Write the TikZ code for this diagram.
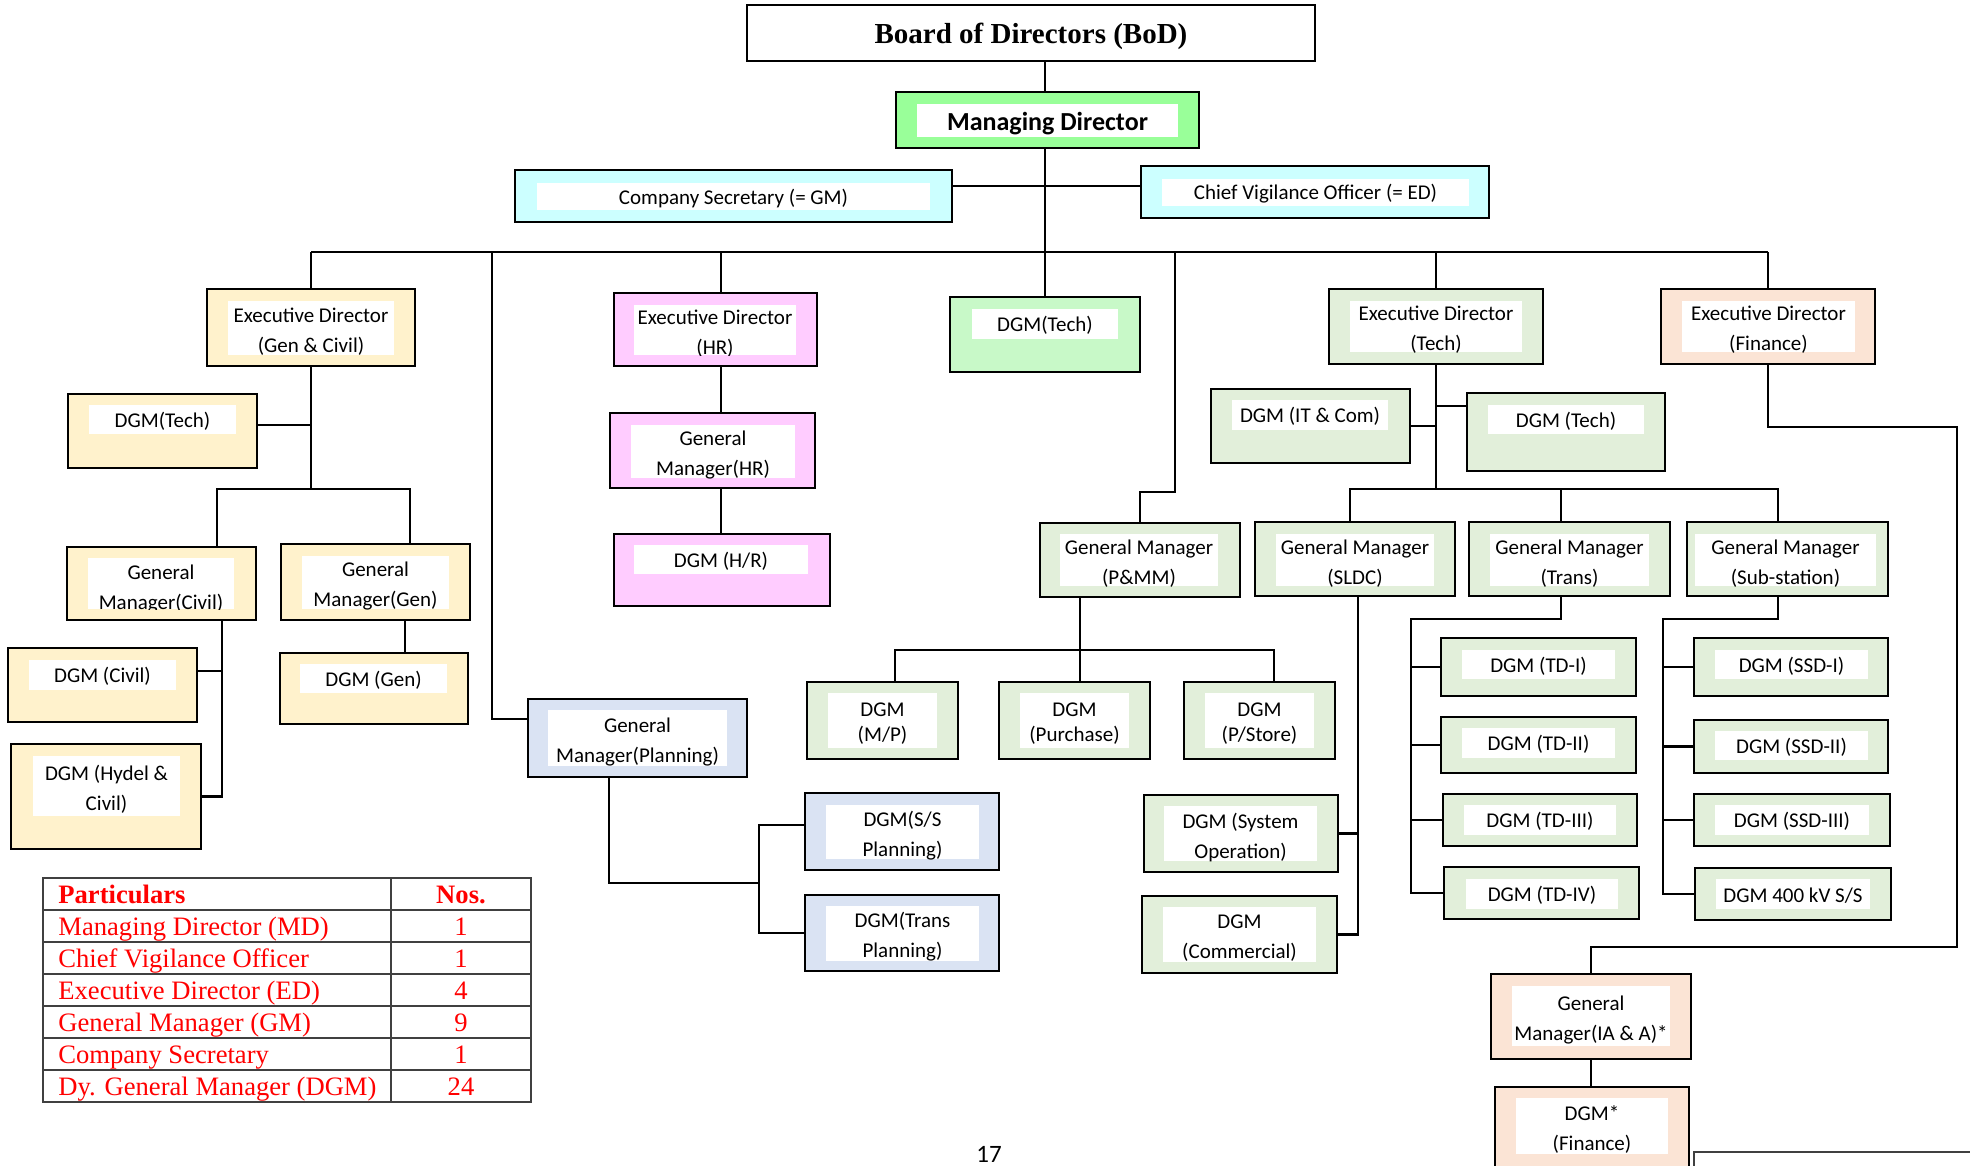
\documentclass[tikz,border=0pt]{standalone}
\usepackage{fontspec}
\setmainfont{Carlito}
\newfontfamily\timesf{Liberation Serif}
\usetikzlibrary{fit,calc}
\definecolor{mdgreen}{HTML}{99FF99}
\definecolor{cyanl}{HTML}{CCFFFF}
\definecolor{yel}{HTML}{FFF2CC}
\definecolor{hrpink}{HTML}{FFCCFF}
\definecolor{mdtech}{HTML}{C8F9C8}
\definecolor{tgreen}{HTML}{E2EFDA}
\definecolor{peach}{HTML}{FBE4D5}
\definecolor{lblue}{HTML}{DAE3F3}
\definecolor{tabred}{HTML}{FF0000}
\tikzset{
  orgframe/.style={draw=black, line width=1.15pt, inner sep=0pt, outer sep=0pt},
  btxt/.style={font=\fontsize{10.5}{15}\selectfont, align=center, inner sep=0pt, text=black, yshift=-0.8pt},
  twoline/.style={yshift=-1pt},
  conn/.style={line width=1.25pt},
  tabline/.style={line width=0.75pt, draw={rgb,255:red,64;green,64;blue,64}},
  tabtxt/.style={font=\timesf\fontsize{13.3}{16}\selectfont, text=tabred, inner sep=0pt},
}
\newcommand\orgbox[8][]{%
  \node[orgframe, fill=#3, fit={(#4)(#5)}] (#2) {};
  \fill[white] (#6) rectangle (#7);
  \begin{scope}
    \clip (#6) rectangle (#7);
    \node[btxt, #1] (#2t) at ($(#6)!0.5!(#7)$) {#8};
  \end{scope}
}
\begin{document}
\begin{tikzpicture}[x=0.5pt,y=-0.5pt]
\useasboundingbox (0,0) rectangle (1970,1166);
% boxes
\node[draw=black, line width=0.7pt, fill=white, inner sep=0pt, fit={(747,5)(1315,61)}] (bod) {};
\node[font={\timesf\fontsize{14.5}{16}\selectfont\bfseries}, inner sep=0pt] (bodt) at (1031,36) {Board of Directors (BoD)};
\orgbox[yshift=-0.6pt]{md}{mdgreen}{896,92}{1199,148}{917,104}{1178,137}{\fontsize{13}{15}\selectfont\bfseries Managing Director}
\orgbox{cs}{cyanl}{515,170}{952,222}{537,183}{930,210}{Company Secretary (= GM)}
\orgbox{cvo}{cyanl}{1141,166}{1489,218}{1162,179}{1469,206}{Chief Vigilance Officer (= ED)}
\orgbox[twoline]{edgc}{yel}{207,289}{415,366}{228,301}{394,355}{Executive Director\\(Gen \& Civil)}
\orgbox[twoline]{edhr}{hrpink}{614,293}{817,366}{634,305}{796,355}{Executive Director\\(HR)}
\orgbox{dgmta}{mdtech}{950,297}{1140,372}{972,309}{1118,339}{DGM(Tech)}
\orgbox[twoline]{edt}{tgreen}{1329,289}{1543,364}{1350,301}{1522,352}{Executive Director\\(Tech)}
\orgbox[twoline]{edf}{peach}{1661,289}{1875,364}{1682,301}{1855,352}{Executive Director\\(Finance)}
\orgbox{dgmtb}{yel}{68,394}{257,468}{89,405}{236,434}{DGM(Tech)}
\orgbox[yshift=-2pt]{gmc}{yel}{67,547}{256,620}{88,558}{234,609}{General\\Manager(Civil)}
\orgbox[twoline]{gmg}{yel}{281,544}{470,620}{302,556}{449,609}{General\\Manager(Gen)}
\orgbox{dgmc}{yel}{8,648}{197,722}{29,660}{176,690}{DGM (Civil)}
\orgbox{dgmg}{yel}{280,653}{468,724}{300,664}{447,693}{DGM (Gen)}
\orgbox[twoline]{dgmh}{yel}{11,744}{201,849}{33,756}{180,816}{DGM (Hydel \&\\Civil)}
\orgbox[twoline]{gmhr}{hrpink}{610,413}{815,488}{631,425}{795,478}{General\\Manager(HR)}
\orgbox{dgmhr}{hrpink}{614,534}{830,606}{634,545}{808,574}{DGM (H/R)}
\orgbox[twoline]{gmp}{lblue}{528,699}{747,777}{548,710}{727,766}{General\\Manager(Planning)}
\orgbox[twoline]{dgmss}{lblue}{805,793}{999,870}{826,805}{979,859}{DGM(S/S\\Planning)}
\orgbox[twoline]{dgmtp}{lblue}{805,895}{999,971}{826,906}{979,961}{DGM(Trans\\Planning)}
\orgbox[twoline]{gmpmm}{tgreen}{1040,523}{1240,597}{1060,534}{1218,586}{General Manager\\(P\&MM)}
\orgbox[twoline]{dgmmp}{tgreen}{807,682}{958,759}{828,693}{937,748}{DGM\\[-2.5pt](M/P)}
\orgbox[twoline]{dgmpur}{tgreen}{999,682}{1150,759}{1020,693}{1129,748}{DGM\\[-2.5pt](Purchase)}
\orgbox[twoline]{dgmps}{tgreen}{1184,682}{1335,759}{1205,693}{1314,748}{DGM\\[-2.5pt](P/Store)}
\orgbox{dgmit}{tgreen}{1211,389}{1410,463}{1232,400}{1388,430}{DGM (IT \& Com)}
\orgbox{dgmtc}{tgreen}{1467,393}{1665,471}{1488,405}{1644,434}{DGM (Tech)}
\orgbox[twoline]{gmsl}{tgreen}{1255,522}{1455,596}{1276,534}{1434,586}{General Manager\\(SLDC)}
\orgbox[twoline]{gmtr}{tgreen}{1469,522}{1670,596}{1490,534}{1649,586}{General Manager\\(Trans)}
\orgbox[twoline]{gmsub}{tgreen}{1687,522}{1888,596}{1695,534}{1876,586}{General Manager\\(Sub-station)}
\orgbox[twoline]{dgmso}{tgreen}{1144,795}{1338,872}{1164,806}{1317,861}{DGM (System\\Operation)}
\orgbox[twoline]{dgmcm}{tgreen}{1142,896}{1337,973}{1163,907}{1316,962}{DGM\\(Commercial)}
\orgbox{tda}{tgreen}{1441,638}{1636,696}{1462,650}{1615,679}{DGM (TD-I)}
\orgbox{tdb}{tgreen}{1441,717}{1636,773}{1462,728}{1615,758}{DGM (TD-II)}
\orgbox{tdc}{tgreen}{1443,794}{1637,846}{1464,805}{1616,835}{DGM (TD-III)}
\orgbox{tdd}{tgreen}{1444,867}{1639,919}{1466,879}{1618,909}{DGM (TD-IV)}
\orgbox{ssa}{tgreen}{1694,638}{1888,696}{1715,650}{1868,679}{DGM (SSD-I)}
\orgbox{ssb}{tgreen}{1694,720}{1888,773}{1715,731}{1868,760}{DGM (SSD-II)}
\orgbox{ssc}{tgreen}{1694,794}{1890,846}{1715,805}{1869,835}{DGM (SSD-III)}
\orgbox{ssd}{tgreen}{1695,868}{1891,920}{1716,879}{1870,909}{DGM 400 kV S/S}
\orgbox[twoline]{gmia}{peach}{1491,974}{1691,1059}{1512,986}{1670,1046}{General\\Manager(IA \& A)*}
\orgbox[twoline]{dgmf}{peach}{1495,1087}{1689,1190}{1516,1098}{1668,1154}{DGM*\\(Finance)}
% helper coordinates
\coordinate (busY) at (0,252);
\coordinate (csY) at (0,186);
\coordinate (mdx) at (1045,0);
\coordinate (hrx) at (721,0);
% top connectors
\draw[conn] (mdx |- bod.south) -- (mdx |- md.north);
\draw[conn] (mdx |- md.south) -- (mdx |- dgmta.north);
\draw[conn] (cs.east |- csY) -- (cvo.west |- csY);
\draw[conn] (edgc.north |- busY) -- (edf.north |- busY);
\draw[conn] (edgc.north) -- (edgc.north |- busY);
\draw[conn] (hrx |- busY) -- (hrx |- edhr.north);
\draw[conn] (hrx |- edhr.south) -- (hrx |- gmhr.north);
\draw[conn] (hrx |- gmhr.south) -- (hrx |- dgmhr.north);
\draw[conn] (edt.north) -- (edt.north |- busY);
\draw[conn] (edf.north) -- (edf.north |- busY);
% long drops
\coordinate (pla) at (492,252);
\coordinate (plb) at (492,719);
\draw[conn] (pla) -- (plb) -- (plb -| gmp.west);
\coordinate (pma) at (1175,252);
\coordinate (pmb) at (1175,492);
\draw[conn] (pma) -- (pmb) -- (pmb -| gmpmm.north) -- (gmpmm.north);
% Gen & Civil
\coordinate (gcY) at (0,489);
\coordinate (tbY) at (0,425);
\draw[conn] (edgc.south) -- (edgc.south |- gcY);
\draw[conn] (dgmtb.east |- tbY) -- (edgc.south |- tbY);
\coordinate (gca) at (217,489);
\coordinate (gcb) at (410,489);
\draw[conn] (gca |- gmc.north) -- (gca) -- (gcb) -- (gcb |- gmg.north);
\coordinate (cvx) at (222,0);
\draw[conn] (cvx |- gmc.south) -- (cvx |- dgmh.east) -- (dgmh.east);
\coordinate (dcY) at (0,671);
\draw[conn] (dgmc.east |- dcY) -- (cvx |- dcY);
\coordinate (ggx) at (405,0);
\draw[conn] (ggx |- gmg.south) -- (ggx |- dgmg.north);
% Planning
\coordinate (pga) at (609,883);
\coordinate (pgb) at (759,883);
\draw[conn] (pga |- gmp.south) -- (pga) -- (pgb);
\coordinate (ssY) at (0,825);
\draw[conn] (dgmss.west |- ssY) -- (pgb |- ssY) -- (pgb |- dgmtp.west) -- (dgmtp.west);
% P&MM
\coordinate (pxa) at (895,650);
\coordinate (pxb) at (1080,650);
\coordinate (pxc) at (1274,650);
\draw[conn] (pxa |- dgmmp.north) -- (pxa) -- (pxc) -- (pxc |- dgmps.north);
\draw[conn] (pxb |- gmpmm.south) -- (pxb |- dgmpur.north);
% ED Tech
\coordinate (tY) at (0,489);
\coordinate (tcY) at (0,406);
\draw[conn] (edt.south) -- (edt.south |- tY);
\draw[conn] (dgmtc.west |- tcY) -- (edt.south |- tcY);
\draw[conn] (dgmit.east) -- (dgmit.east -| edt.south);
\coordinate (txa) at (1350,489);
\coordinate (txb) at (1561,489);
\coordinate (txc) at (1778,489);
\draw[conn] (txa |- gmsl.north) -- (txa) -- (txc) -- (txc |- gmsub.north);
\draw[conn] (txb) -- (txb |- gmtr.north);
% SLDC
\coordinate (slx) at (1358,0);
\draw[conn] (slx |- gmsl.south) -- (slx |- dgmcm.east) -- (dgmcm.east);
\draw[conn] (dgmso.east) -- (dgmso.east -| slx);
% Trans
\coordinate (trY) at (0,619);
\coordinate (trx) at (1411,0);
\draw[conn] (txb |- gmtr.south) -- (txb |- trY) -- (trx |- trY) -- (trx |- tdd.west) -- (tdd.west);
\draw[conn] (tda.west) -- (tda.west -| trx);
\draw[conn] (tdb.west) -- (tdb.west -| trx);
\draw[conn] (tdc.west) -- (tdc.west -| trx);
% Sub-station
\coordinate (sbx) at (1663,0);
\draw[conn] (txc |- gmsub.south) -- (txc |- trY) -- (sbx |- trY) -- (sbx |- ssd.west) -- (ssd.west);
\draw[conn] (ssa.west) -- (ssa.west -| sbx);
\draw[conn] (ssb.west) -- (ssb.west -| sbx);
\draw[conn] (ssc.west) -- (ssc.west -| sbx);
% Finance
\coordinate (fa) at (1768,427);
\coordinate (fb) at (1957,427);
\coordinate (fc) at (1957,947);
\draw[conn] (edf.south) -- (edf.south |- fa) -- (fb) -- (fc) -- (fc -| gmia.north) -- (gmia.north);
\draw[conn] (gmia.south) -- (gmia.south |- dgmf.north);
% fragment of a frame at the bottom right
\draw[line width=0.7pt, black!75] (1694,1180) -- (1694,1152) -- (1990,1152);
% table
\draw[tabline] (43,878) rectangle (531,1102);
\foreach \yy in {910,942,974,1006,1038,1070} \draw[tabline] (43,\yy) -- (531,\yy);
\draw[tabline] (391,878) -- (391,1102);
\node[tabtxt, anchor=base west, font={\timesf\fontsize{13.3}{16}\selectfont\bfseries}] (th1) at (58,903) {Particulars};
\node[tabtxt, anchor=base, font={\timesf\fontsize{13.3}{16}\selectfont\bfseries}] (th2) at (461,903) {Nos.};
\node[tabtxt, anchor=base west] (ta1) at (58,935) {Managing Director (MD)};
\node[tabtxt, anchor=base] (tb1) at (461,935) {1};
\node[tabtxt, anchor=base west] (ta2) at (58,967) {Chief Vigilance Officer};
\node[tabtxt, anchor=base] (tb2) at (461,967) {1};
\node[tabtxt, anchor=base west] (ta3) at (58,999) {Executive Director (ED)};
\node[tabtxt, anchor=base] (tb3) at (461,999) {4};
\node[tabtxt, anchor=base west] (ta4) at (58,1031) {General Manager (GM)};
\node[tabtxt, anchor=base] (tb4) at (461,1031) {9};
\node[tabtxt, anchor=base west] (ta5) at (58,1063) {Company Secretary};
\node[tabtxt, anchor=base] (tb5) at (461,1063) {1};
\node[tabtxt, anchor=base west] (ta6) at (58,1095) {Dy. General Manager (DGM)};
\node[tabtxt, anchor=base] (tb6) at (461,1095) {24};
% page number
\node[font=\fontsize{12.5}{14}\selectfont, inner sep=0pt, anchor=base] (pg) at (989,1162) {17};
\end{tikzpicture}
\end{document}
